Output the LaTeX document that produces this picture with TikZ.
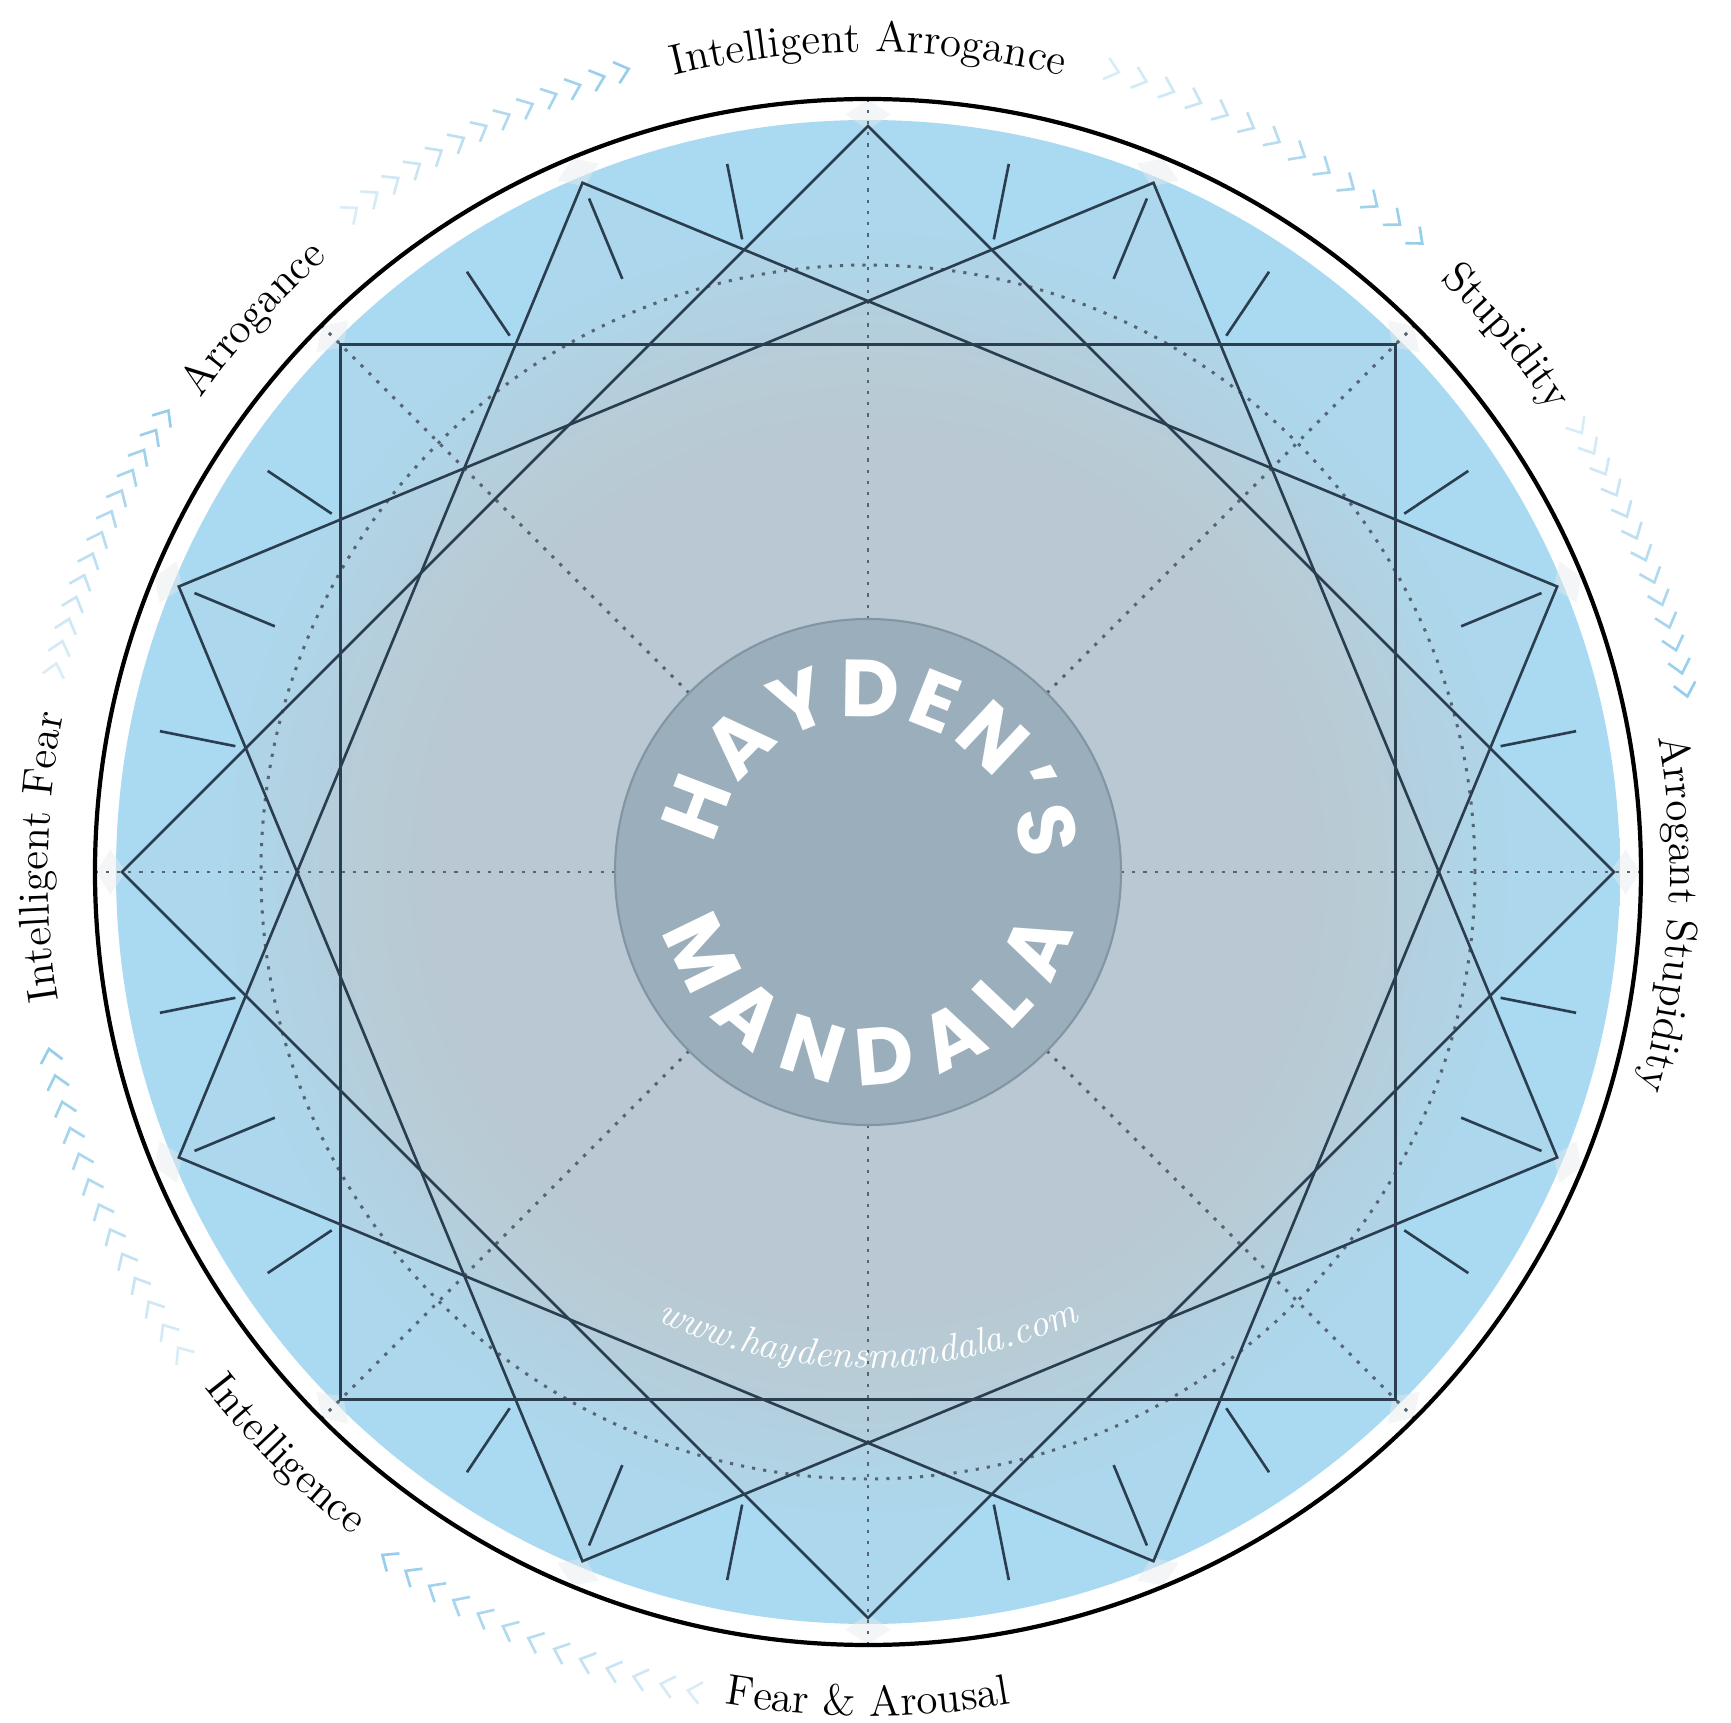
\documentclass[tikz,border=0pt]{standalone}
\usepackage{fontspec}
\newfontfamily\sealfont{Poppins}
\usetikzlibrary{decorations.text}

\definecolor{ringblue}{RGB}{170,218,242}
\definecolor{coregray}{RGB}{185,204,215}
\definecolor{veilgray}{RGB}{192,200,206}
\definecolor{sealgray}{RGB}{155,174,187}
\definecolor{sealedge}{RGB}{130,149,163}
\definecolor{inkblue}{RGB}{42,62,80}
\definecolor{dotgray}{RGB}{85,100,115}
\definecolor{chevblue}{RGB}{150,205,234}
\definecolor{glowgray}{RGB}{230,235,237}

\pgfdeclareradialshading{mandalaglow}{\pgfpoint{0bp}{0bp}}{%
  color(0bp)=(coregray); color(14.5bp)=(coregray);
  color(21.5bp)=(ringblue); color(25bp)=(ringblue); color(50bp)=(ringblue)}

\newcommand\rimfont{\fontsize{12.3}{14}\selectfont}
\newcommand\sealtext{\sealfont\bfseries\fontsize{23}{23}\selectfont\color{white}}

\begin{document}
\begin{tikzpicture}[
    edge/.style={inkblue, line width=0.75pt},
    dotline/.style={dotgray, line width=0.85pt, dash pattern=on 0.9pt off 2.3pt},
    chevron/.style={chevblue, line width=0.75pt},
    rimtext/.style={decorate, decoration={text along path, text align=center, text={|\rimfont|#1}}},
    sealarc/.style={decorate, decoration={text along path, text align={fit to path}, text={|\sealtext|#1}}}
  ]
  \useasboundingbox (-8.68,-8.51) rectangle (8.63,8.72);
  \fill[white] (-8.68,-8.51) rectangle (8.63,8.72);

  % disc and veils
  \shade[shading=mandalaglow] (0,0) circle (7.52);
  \foreach \r in {0,22.5,45,67.5}
    \fill[veilgray, fill opacity=0.12] (\r:7.46) -- (\r+90:7.46) -- (\r+180:7.46) -- (\r+270:7.46) -- cycle;
  \foreach \a in {0,22.5,...,337.5}
    \fill[glowgray, opacity=0.45] (\a:7.42) -- (\a+1.7:7.58) -- (\a:7.72) -- (\a-1.7:7.58) -- cycle;

  % guide lines
  \draw[dotline] (0,0) circle (6.07);
  \foreach \a in {0,45,...,315}
    \draw[dotline] (\a:2.53) -- (\a:7.73);

  % four squares and ticks
  \foreach \r in {0,22.5,45,67.5}
    \draw[edge] (\r:7.46) -- (\r+90:7.46) -- (\r+180:7.46) -- (\r+270:7.46) -- cycle;
  \foreach \a in {11.25,33.75,...,348.75}
    \draw[edge] (\a:6.45) -- (\a:7.22);
  \foreach \a in {22.5,67.5,...,337.5}
    \draw[edge] (\a:6.42) -- (\a:7.29);

  % seal
  \draw[sealedge, fill=sealgray, line width=0.6pt] (0,0) circle (2.53);
  \path[sealarc=HAYDEN’S] (170:1.55) arc[start angle=170, end angle=4, radius=1.55];
  \path[sealarc=MANDALA] (196:2.13) arc[start angle=196, end angle=344, radius=2.13];
  \path[decorate, decoration={text along path, text align=center,
      text={|\itshape\fontsize{10.8}{12}\selectfont\color{white}|www.haydensmandala.com}}]
    (220:4.96) arc[start angle=220, end angle=320, radius=4.96];

  \draw[black, line width=1.2pt] (0,0) circle (7.73);

  % rim labels
  \path[rimtext=Intelligent Arrogance] (130:8.2) arc[start angle=130, end angle=50, radius=8.2];
  \path[rimtext=Stupidity] (80:8.24) arc[start angle=80, end angle=0, radius=8.24];
  \path[rimtext=Arrogant Stupidity] (37:8.02) arc[start angle=37, end angle=-43, radius=8.02];
  \path[rimtext=Arrogance] (178:8.18) arc[start angle=178, end angle=98, radius=8.18];
  \path[rimtext=Intelligent Fear] (219:8.2) arc[start angle=219, end angle=139, radius=8.2];
  \path[rimtext=Fear {\&} Arousal] (230:8.44) arc[start angle=230, end angle=310, radius=8.44];
  \path[rimtext=Intelligence] (185:8.4) arc[start angle=185, end angle=265, radius=8.4];

  % chevrons, head/tail angles
  \foreach \h/\t in {107/128, 49/73, 12.5/32, 147/166, 192.6/215, 235/258}
    \foreach \i in {0,...,12} {
      \pgfmathsetmacro\a{\t+(\h-\t)*\i/12}
      \pgfmathsetmacro\o{0.35+0.65*\i/12}
      \draw[chevron, draw opacity=\o, shift={(\a:8.38)}, rotate=\a-90]
        (-0.07,0.11) -- (0.06,0) -- (-0.07,-0.11);
    }
\end{tikzpicture}
\end{document}
